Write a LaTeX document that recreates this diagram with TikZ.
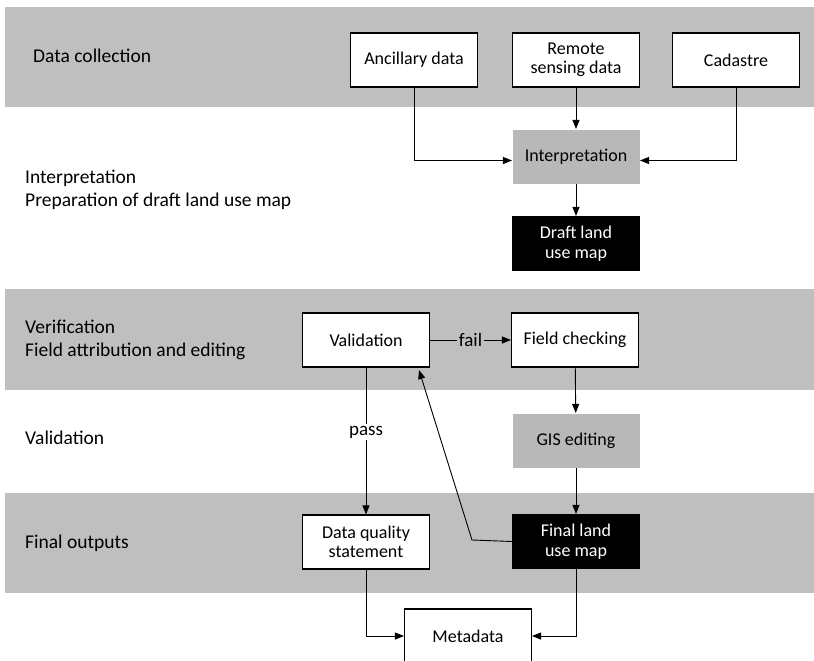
\documentclass[tikz,border=0pt]{standalone}
\usepackage{fontspec}
\setmainfont{Carlito}
\usetikzlibrary{arrows.meta}
\definecolor{bandgray}{RGB}{191,191,191}
\definecolor{boxgray}{RGB}{184,184,184}

\begin{document}
\begin{tikzpicture}[x=1pt, y=-1pt,
    box/.style={draw=black, line width=1.1pt, fill=white, minimum width=127pt, minimum height=54pt,
        inner sep=0pt, align=center, font=\fontsize{18}{19.5}\selectfont},
    graybox/.style={box, draw=none, fill=boxgray},
    blackbox/.style={box, fill=black, text=white},
    band/.style={fill=bandgray},
    stage/.style={anchor=west, align=left, inner sep=0pt, font=\fontsize{19.5}{23}\selectfont},
    flow/.style={line width=0.9pt, -{Triangle[length=9pt,width=7pt]}},
    tag/.style={inner sep=2pt, font=\fontsize{19}{20}\selectfont}]
    \clip (0,0) rectangle (814,661);
    \fill[white] (0,0) rectangle (814,661);

    \fill[band] (5,7) rectangle (814,107);
    \fill[band] (5,289) rectangle (814,390);
    \fill[band] (5,493) rectangle (814,593);

    \node[stage] (S1) at (33,56) {Data collection};
    \node[stage] (S2) at (25,190) {Interpretation\\Preparation of draft land use map};
    \node[stage] (S3) at (25,340) {Verification\\Field attribution and editing};
    \node[stage] (S4) at (25,438) {Validation};
    \node[stage] (S5) at (25,543) {Final outputs};

    \node[box] (Anc) at (414,60) {Ancillary data};
    \node[box] (Rem) at (576,60) {Remote\\sensing data};
    \node[box] (Cad) at (736,60) {Cadastre};
    \node[graybox] (Int) at (576,156.5) {Interpretation};
    \node[blackbox] (Draft) at (576,243.5) {Draft land\\use map};
    \node[box] (Val) at (366,340) {Validation};
    \node[box] (Field) at (575,340) {Field checking};
    \node[graybox] (GIS) at (576,440.5) {GIS editing};
    \node[box] (DQ) at (366,542) {Data quality\\statement};
    \node[blackbox] (Final) at (576,541.5) {Final land\\use map};
    \node[box] (Meta) at (468,636) {Metadata};

    \coordinate (bend) at (472,540);
    \coordinate (back) at (419,370);

    \draw[flow] (Anc.south) |- ([yshift=-4pt]Int.west);
    \draw[flow] (Rem) -- (Int);
    \draw[flow] (Cad.south) |- ([yshift=-4pt]Int.east);
    \draw[flow] (Int) -- (Draft);
    \draw[flow] (Val) -- node[tag, fill=bandgray] {fail} (Field);
    \draw[flow] (Val) -- node[tag, fill=white, pos=0.44] {pass} (DQ);
    \draw[flow] (Field) -- (GIS);
    \draw[flow] (GIS) -- (Final);
    \draw[flow] (Final.west) -- (bend) -- (back);
    \draw[flow] (DQ.south) |- (Meta.west);
    \draw[flow] (Final.south) |- (Meta.east);
\end{tikzpicture}
\end{document}
